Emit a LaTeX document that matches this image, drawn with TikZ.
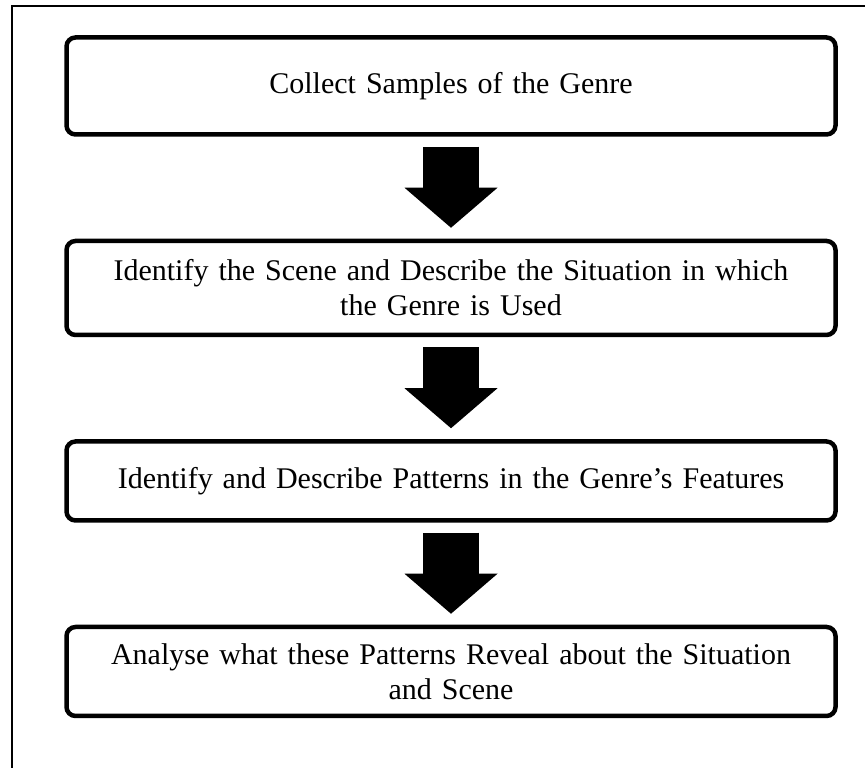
\documentclass[tikz,border=0pt]{standalone}
\usepackage{fontspec}
\setmainfont{Liberation Serif}
\usetikzlibrary{arrows.meta,positioning}
\tikzstyle{stage} = [
  rectangle, draw, line width = 4.5pt, rounded corners = 9pt,
  text centered, text width = 740pt, minimum width = 769pt,
  font = \fontsize{30}{35}\selectfont
]
\tikzstyle{fatarrow} = [
  line width = 56pt, shorten <= 10pt, shorten >= 11pt,
  -{Triangle[width = 93pt, length = 40pt, line width = 0pt]}
]

\begin{document}
\begin{tikzpicture}[x=1pt, y=1pt]
    \useasboundingbox (0,0) rectangle (865,768);
    \draw[line width = 2pt] (12,-10) -- (12,762) -- (880,762);

    \node[stage, minimum height = 97pt] (collect) at (451,682) {Collect Samples of the Genre};
    \node[stage, minimum height = 94pt, below=102pt of collect] (scene) {Identify the Scene and Describe the Situation in which\\ the Genre is Used};
    \node[stage, minimum height = 79pt, below=102pt of scene] (patterns) {Identify and Describe Patterns in the Genre's Features};
    \node[stage, minimum height = 89pt, below=102pt of patterns] (analyse) {Analyse what these Patterns Reveal about the Situation\\ and Scene};

    \draw[fatarrow] (collect) -- (scene);
    \draw[fatarrow] (scene) -- (patterns);
    \draw[fatarrow] (patterns) -- (analyse);
  \end{tikzpicture}
\end{document}
